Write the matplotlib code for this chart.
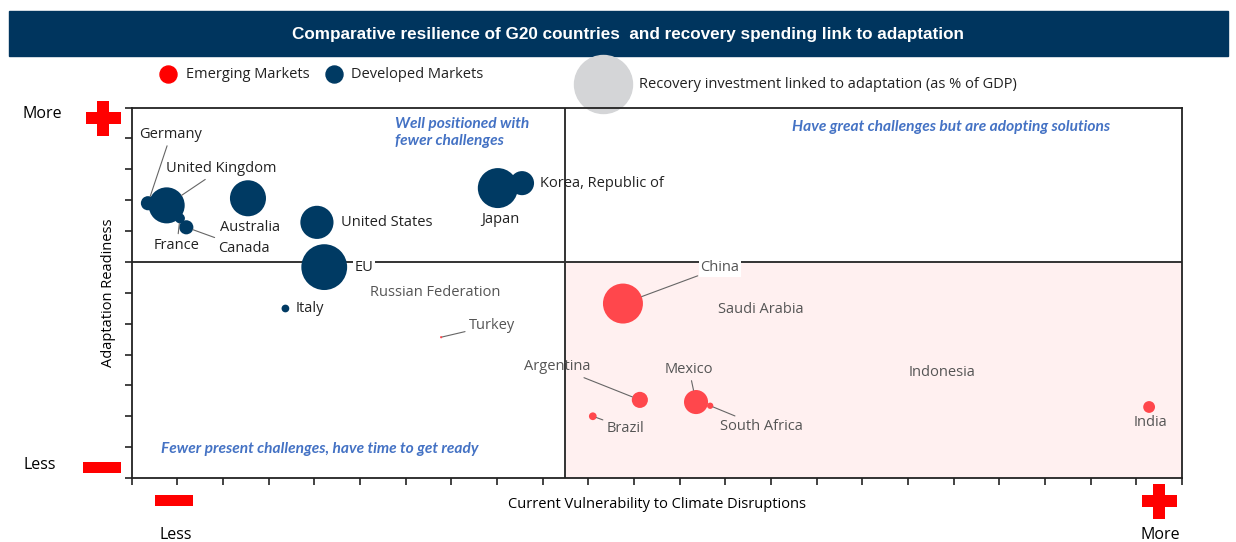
import matplotlib.pyplot as plt
from matplotlib.patches import Rectangle
import numpy as np

# data (x = vulnerability, y = readiness, size = recovery % GDP)
developed = ["Germany", "United Kingdom", "France", "Canada", "Australia",
             "United States", "EU", "Japan", "Korea, Republic of", "Italy"]
dev_x = [0.36, 0.77, 1.06, 1.20, 2.55, 4.06, 4.22, 8.02, 8.55, 3.37]
dev_y = [8.90, 8.83, 8.41, 8.12, 9.06, 8.28, 6.83, 9.39, 9.55, 5.49]
dev_size = [0.20, 1.30, 0.10, 0.20, 1.30, 1.10, 2.10, 1.60, 0.58, 0.06]

emerging = ["Russian Federation", "Turkey", "China", "Saudi Arabia", "Argentina",
            "Mexico", "South Africa", "Brazil", "Indonesia", "India"]
em_x = [5.22, 6.78, 10.76, 12.84, 11.13, 12.36, 12.67, 10.10, 17.02, 22.28]
em_y = [6.02, 4.56, 5.65, 5.47, 2.53, 2.46, 2.34, 2.00, 3.43, 2.30]
em_size = [0.0, 0.005, 1.60, 0.0, 0.26, 0.58, 0.04, 0.06, 0.0, 0.14]

x_split = 9.5
y_split = 7

navy = "#003A63"
red = "#FF474C"
blue_txt = "#4472C4"

# label placement: offset in pixels from the bubble, alignment, leader line
label_pos = {
    "Germany": (23, 69, "center", True),
    "United Kingdom": (55, 37, "center", True),
    "France": (-3, -27, "center", True),
    "Canada": (58, -21, "center", True),
    "Australia": (2, -29, "center", False),
    "United States": (24, 0, "left", False),
    "EU": (30, 0, "left", False),
    "Japan": (3, -31, "center", False),
    "Korea, Republic of": (18, 0, "left", False),
    "Italy": (10, 0, "left", False),
    "Russian Federation": (0, 0, "left", False),
    "Turkey": (28, 12, "left", True),
    "China": (97, 36, "center", True),
    "Saudi Arabia": (0, 0, "left", False),
    "Argentina": (-83, 33, "center", True),
    "Mexico": (-7, 33, "center", True),
    "South Africa": (51, -21, "center", True),
    "Brazil": (33, -12, "center", True),
    "Indonesia": (0, 0, "left", False),
    "India": (1, -16, "center", False),
}

W, H = 1236, 542
fig = plt.figure(figsize=(W / 100, H / 100), dpi=100)
plt.rcParams['font.family'] = ['Open Sans', 'DejaVu Sans']

# background overlay in pixel coords for title bar, legend, +/- icons
bg = fig.add_axes([0, 0, 1, 1])
bg.set_xlim(0, W)
bg.set_ylim(H, 0)
bg.axis("off")
bg.add_patch(Rectangle((9, 11), 1219, 45, color="#00355E", zorder=1))
bg.text(628, 34, "Comparative resilience of G20 countries  and recovery spending link to adaptation",
        color="white", fontsize=12.3, fontweight="bold", family="Liberation Sans",
        ha="center", va="center", zorder=2)

# legend
bg.scatter([168], [74], s=150, color="#FF0000", zorder=3)
bg.text(186, 74, "Emerging Markets", fontsize=10.5, va="center", color="#222222")
bg.scatter([334], [74], s=150, color=navy, zorder=3)
bg.text(351, 74, "Developed Markets", fontsize=10.5, va="center", color="#222222")
bg.scatter([603], [84], s=(2 * 29 * 0.72) ** 2, color="#D4D5D7", zorder=3)
bg.text(639, 85, "Recovery investment linked to adaptation (as % of GDP)", fontsize=10.5,
        va="center", color="#222222")


def plus(cx, cy, size=35, t=12):
    bg.add_patch(Rectangle((cx - size / 2, cy - t / 2), size, t, color="#FF0000", lw=0))
    bg.add_patch(Rectangle((cx - t / 2, cy - size / 2), t, size, color="#FF0000", lw=0))


def minus(cx, cy, w=38, t=11):
    bg.add_patch(Rectangle((cx - w / 2, cy - t / 2), w, t, color="#FF0000", lw=0))


plus(103, 118)
minus(102, 467)
minus(174, 500)
plus(1159, 501)
bg.text(42, 114, "More", fontsize=11.5, ha="center", va="center")
bg.text(40, 465, "Less", fontsize=11.5, ha="center", va="center")
bg.text(176, 535, "Less", fontsize=11.5, ha="center", va="center")
bg.text(1160, 535, "More", fontsize=11.5, ha="center", va="center")

# main axes
left, right, top, bottom = 131.5, 1182, 107.5, 478
ax = fig.add_axes([left / W, 1 - bottom / H, (right - left) / W, (bottom - top) / H])
ax.set_xlim(0, 23)
ax.set_ylim(0, 12)
ax.set_xticks(np.arange(0, 24, 1))
ax.set_yticks(np.arange(0, 13, 1))
ax.set_xticklabels([])
ax.set_yticklabels([])
ax.tick_params(direction="out", length=5, width=1.2, color="#222222")
for sp in ax.spines.values():
    sp.set_linewidth(1.3)
    sp.set_color("#222222")
ax.set_facecolor("none")

ax.add_patch(Rectangle((x_split, 0), 23 - x_split, y_split, color="#FFF0F0", zorder=0, lw=0))
ax.axvline(x_split, color="#333333", lw=1.4, zorder=1)
ax.axhline(y_split, color="#333333", lw=1.4, zorder=1)

ax.set_ylabel("Adaptation Readiness", fontsize=10.5, labelpad=3)
ax.set_xlabel("Current Vulnerability to Climate Disruptions", fontsize=10.5, labelpad=5)

qfont = dict(fontsize=11.2, fontweight="bold", style="italic", color=blue_txt, family="Lato")
ax.text(5.76, 11.2, "Well positioned with\nfewer challenges", va="center", ha="left",
        linespacing=1.25, **qfont)
ax.text(14.46, 11.36, "Have great challenges but are adopting solutions", va="center", **qfont)
ax.text(0.65, 0.94, "Fewer present challenges, have time to get ready", va="center", **qfont)

k = 518  # points^2 per % of GDP
ax.scatter(dev_x, dev_y, s=np.array(dev_size) * k, color=navy, lw=0, zorder=3)
ax.scatter(em_x, em_y, s=np.array(em_size) * k, color=red, lw=0, zorder=3)


def label(names, xs, ys, sizes, color):
    for n, x, y, sz in zip(names, xs, ys, sizes):
        dx, dy, ha, line = label_pos[n]
        r = np.sqrt(sz * k) / 2
        bbox = None
        if n in ("EU", "China"):
            bbox = dict(facecolor="white", edgecolor="none", pad=1)
        arrow = dict(arrowstyle="-", color="#666666", lw=0.8, shrinkA=1, shrinkB=r) if line else None
        ax.annotate(n, (x, y), xytext=(dx, dy), textcoords="offset pixels",
                    ha=ha, va="center", fontsize=10.5, color=color,
                    bbox=bbox, arrowprops=arrow, zorder=4)


label(developed, dev_x, dev_y, dev_size, "#222222")
label(emerging, em_x, em_y, em_size, "#555555")

fig.savefig("out.png", dpi=100)
